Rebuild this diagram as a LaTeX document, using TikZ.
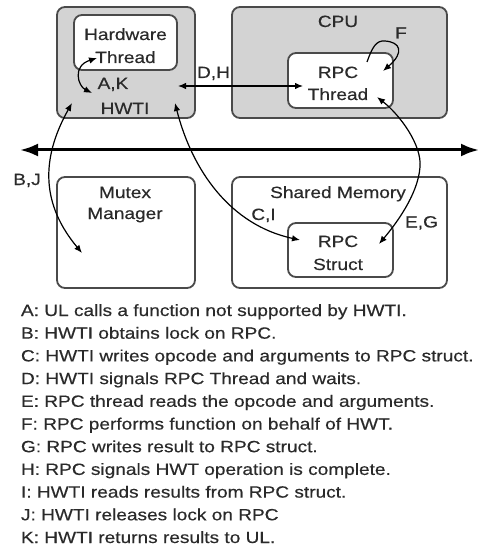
\documentclass[tikz,border=0pt]{standalone}
\usepackage{fontspec}
\setmainfont{Liberation Sans}[FakeStretch=1.17, FakeBold=0.4]
\usetikzlibrary{arrows.meta}
\definecolor{boxfill}{HTML}{D3D3D3}
\definecolor{boxline}{HTML}{4A4A4A}
\definecolor{ink}{HTML}{2A2A2A}
\begin{document}
\begin{tikzpicture}[x=1pt,y=-1pt,
  every node/.style={inner sep=0pt, outer sep=0pt, text=ink,
    font=\fontsize{16.3}{22.7}\selectfont},
  unitbox/.style={draw=boxline, line width=1.8pt, rounded corners=8pt, fill=boxfill},
  openbox/.style={draw=boxline, line width=1.8pt, rounded corners=8pt, fill=white},
  tip/.tip={Latex[length=8pt,width=6.5pt]},
  link/.style={line width=1.2pt, draw=black, tip-tip},
  selflink/.style={line width=1.2pt, draw=black, -tip},
  bus/.style={line width=3pt, draw=black,
    {Latex[length=18pt,width=13pt]}-{Latex[length=18pt,width=13pt]}},
  lbl/.style={anchor=base},
  legend/.style={anchor=base west}
]
\useasboundingbox (0,0) rectangle (479,548);

% Top row: HWTI and CPU
\node[unitbox, minimum width=138, minimum height=111] (hwti) at (126,62.5) {};
\node[openbox, minimum width=103, minimum height=55] (hwt) at (125.5,42.5) {};
\node[unitbox, minimum width=215, minimum height=111] (cpu) at (339.5,62.5) {};
\node[openbox, minimum width=105, minimum height=55] (rpct) at (340.5,80.5) {};

% Bottom row: mutex manager and shared memory
\node[openbox, minimum width=138, minimum height=111] (mutex) at (126,232.5) {};
\node[openbox, minimum width=215, minimum height=111] (shmem) at (339.5,232.5) {};
\node[openbox, minimum width=105, minimum height=54] (rpcs) at (340.5,250) {};

% Box texts
\node[lbl] (hwtA) at (125.5,40) {Hardware};
\node[lbl] (hwtB) at (125.5,63) {Thread};
\node[lbl] (hwtiL) at (125,114) {HWTI};
\node[lbl] (cpuL) at (338,27) {CPU};
\node[lbl] (rpctA) at (338,78) {RPC};
\node[lbl] (rpctB) at (338,100) {Thread};
\node[lbl] (mutA) at (125,198) {Mutex};
\node[lbl] (mutB) at (125,219) {Manager};
\node[lbl] (shmL) at (338,198) {Shared Memory};
\node[lbl] (rpcsA) at (338,247) {RPC};
\node[lbl] (rpcsB) at (338,270) {Struct};

% Connector labels
\node[lbl] (lAK) at (113,89) {A,K};
\node[lbl] (lDH) at (213.5,78) {D,H};
\node[lbl] (lF) at (401,38.5) {F};
\node[lbl] (lBJ) at (27,185) {B,J};
\node[lbl] (lCI) at (263.5,220) {C,I};
\node[lbl] (lEG) at (421.5,227.5) {E,G};

% Connector end points
\coordinate (busL) at (20,150);
\coordinate (busR) at (479,150);
\coordinate (akUp) at (97,58);
\coordinate (akDn) at (92,93);
\coordinate (dhL) at (178,86);
\coordinate (dhR) at (303,86);
\coordinate (bjUp) at (72,103);
\coordinate (bjDn) at (82,253);
\coordinate (ciUp) at (175,103);
\coordinate (ciDn) at (300,240);
\coordinate (egUp) at (377,97);
\coordinate (egMid) at (420,167);
\coordinate (egDn) at (379,244);
\coordinate (fA) at (367,62);
\coordinate (fTop) at (385,41);
\coordinate (fB) at (383,71);

% Bus
\draw[bus] (busL) -- (busR);

% Connectors
\draw[link] (akUp) .. controls (72,66) and (78,86) .. (akDn);
\draw[link] (dhL) -- (dhR);
\draw[link] (bjUp) .. controls (40,160) and (42,205) .. (bjDn);
\draw[link] (ciUp) .. controls (192,170) and (230,225) .. (ciDn);
\draw[link] (egUp) .. controls (400,115) and (422,145) .. (egMid)
                   .. controls (418,195) and (395,225) .. (egDn);
\draw[selflink] (fA) .. controls (372,48) and (376,40) .. (fTop)
                     .. controls (400,42) and (405,52) .. (fB);

% Step legend
\node[legend] (s1) at (21,316.0) {A: UL calls a function not supported by HWTI.};
\node[legend] (s2) at (21,338.7) {B: HWTI obtains lock on RPC.};
\node[legend] (s3) at (21,361.4) {C: HWTI writes opcode and arguments to RPC struct.};
\node[legend] (s4) at (21,384.1) {D: HWTI signals RPC Thread and waits.};
\node[legend] (s5) at (21,406.8) {E: RPC thread reads the opcode and arguments.};
\node[legend] (s6) at (21,429.5) {F: RPC performs function on behalf of HWT.};
\node[legend] (s7) at (21,452.2) {G: RPC writes result to RPC struct.};
\node[legend] (s8) at (21,474.9) {H: RPC signals HWT operation is complete.};
\node[legend] (s9) at (21,497.6) {I: HWTI reads results from RPC struct.};
\node[legend] (s10) at (21,520.3) {J: HWTI releases lock on RPC};
\node[legend] (s11) at (21,543.0) {K: HWTI returns results to UL.};
\end{tikzpicture}
\end{document}
